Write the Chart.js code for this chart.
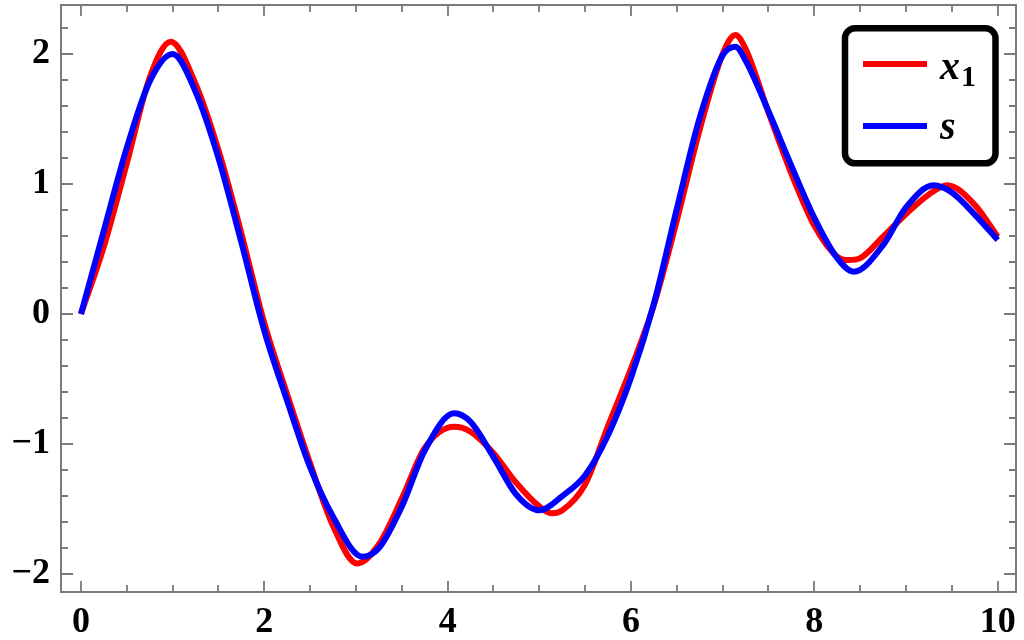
<!DOCTYPE html>
<html>
<head>
<meta charset="utf-8">
<script src="https://cdn.jsdelivr.net/npm/chart.js@4.4.0/dist/chart.umd.min.js"></script>
<style>
  html, body { margin: 0; padding: 0; background: #ffffff; }
  #wrap { width: 1024px; height: 640px; }
</style>
</head>
<body>
<div id="wrap"><canvas id="c" width="1024" height="640"></canvas></div>
<script>
// ---- data ----
const tX1 = [0, 0.25, 0.5, 0.75, 0.98, 1.25, 1.5, 1.75, 2.0, 2.25, 2.5, 2.75, 3.01, 3.25, 3.5, 3.75, 4.07, 4.25, 4.5, 4.75, 5.0, 5.14, 5.25, 5.5, 5.75, 6.0, 6.25, 6.5, 6.75, 7.0, 7.14, 7.25, 7.5, 7.75, 8.0, 8.25, 8.37, 8.5, 8.75, 9.0, 9.25, 9.45, 9.75, 10];
const x1Values = [0, 0.52, 1.16, 1.82, 2.095, 1.77, 1.26, 0.62, -0.07, -0.62, -1.15, -1.63, -1.918, -1.77, -1.42, -1.03, -0.867, -0.905, -1.07, -1.30, -1.48, -1.533, -1.51, -1.31, -0.86, -0.42, 0.07, 0.72, 1.42, 2.0, 2.146, 2.04, 1.55, 1.08, 0.68, 0.44, 0.415, 0.43, 0.595, 0.77, 0.92, 0.99, 0.84, 0.595];

const tS = [0, 0.25, 0.5, 0.75, 1.0, 1.25, 1.5, 1.75, 2.0, 2.25, 2.5, 2.75, 3.07, 3.25, 3.5, 3.75, 4.07, 4.25, 4.5, 4.75, 5.0, 5.25, 5.5, 5.75, 6.0, 6.25, 6.5, 6.75, 7.0, 7.14, 7.25, 7.5, 7.75, 8.0, 8.25, 8.43, 8.75, 9.0, 9.3, 9.5, 9.75, 10];
const sValues = [0, 0.645, 1.28, 1.79, 2.0, 1.71, 1.20, 0.55, -0.13, -0.67, -1.18, -1.56, -1.867, -1.80, -1.48, -1.05, -0.764, -0.83, -1.10, -1.39, -1.51, -1.40, -1.24, -0.93, -0.49, 0.08, 0.81, 1.51, 1.99, 2.056, 1.95, 1.56, 1.14, 0.74, 0.43, 0.326, 0.53, 0.82, 0.99, 0.935, 0.765, 0.57];

const seriesLabels = ['x1', 's'];
const xTickLabels = [0, 2, 4, 6, 8, 10];
const yTickLabels = [-2, -1, 0, 1, 2];
const xMinorTicks = [0, 0.5, 1, 1.5, 2, 2.5, 3, 3.5, 4, 4.5, 5, 5.5, 6, 6.5, 7, 7.5, 8, 8.5, 9, 9.5, 10];
const yMinorTicks = [-2, -1.8, -1.6, -1.4, -1.2, -1, -0.8, -0.6, -0.4, -0.2, 0, 0.2, 0.4, 0.6, 0.8, 1, 1.2, 1.4, 1.6, 1.8, 2, 2.2];

// ---- styling ----
const FRAME = '#7a7a7a';
const SERIF = "'Liberation Serif'";
const fmt = v => (v < 0 ? '\u2212' + Math.abs(v) : String(v));

const framePlugin = {
  id: 'mmaFrame',
  beforeDatasetsDraw(chart) {
    const { ctx, chartArea: a, scales: { x, y } } = chart;
    ctx.save();
    ctx.strokeStyle = FRAME;
    ctx.lineWidth = 1.8;
    ctx.beginPath();
    xMinorTicks.forEach(v => {
      const px = Math.round(x.getPixelForValue(v));
      const len = xTickLabels.includes(v) ? 11 : 7;
      ctx.moveTo(px, a.bottom); ctx.lineTo(px, a.bottom - len);
      ctx.moveTo(px, a.top); ctx.lineTo(px, a.top + len);
    });
    yMinorTicks.forEach(v => {
      const py = Math.round(y.getPixelForValue(v));
      const len = yTickLabels.some(t => Math.abs(t - v) < 1e-9) ? 12 : 7;
      ctx.moveTo(a.left, py); ctx.lineTo(a.left + len, py);
      ctx.moveTo(a.right, py); ctx.lineTo(a.right - len, py);
    });
    ctx.stroke();
    ctx.lineWidth = 2;
    ctx.strokeRect(a.left, a.top, a.right - a.left, a.bottom - a.top);
    ctx.restore();
  }
};

function roundRectPath(ctx, x, y, w, h, r) {
  ctx.beginPath();
  ctx.moveTo(x + r, y);
  ctx.lineTo(x + w - r, y);
  ctx.arcTo(x + w, y, x + w, y + r, r);
  ctx.lineTo(x + w, y + h - r);
  ctx.arcTo(x + w, y + h, x + w - r, y + h, r);
  ctx.lineTo(x + r, y + h);
  ctx.arcTo(x, y + h, x, y + h - r, r);
  ctx.lineTo(x, y + r);
  ctx.arcTo(x, y, x + r, y, r);
  ctx.closePath();
}

const legendPlugin = {
  id: 'mmaLegend',
  afterDraw(chart) {
    const ctx = chart.ctx;
    ctx.save();
    roundRectPath(ctx, 845, 28.3, 150.5, 135, 10);
    ctx.fillStyle = '#ffffff';
    ctx.fill();
    ctx.lineWidth = 6.5;
    ctx.strokeStyle = '#000000';
    ctx.stroke();
    const rows = [64, 126];
    const baselines = [78.5, 138.5];
    chart.data.datasets.forEach((ds, i) => {
      const yy = rows[i];
      ctx.beginPath();
      ctx.strokeStyle = ds.borderColor;
      ctx.lineWidth = 6;
      ctx.lineCap = 'butt';
      ctx.moveTo(863, yy); ctx.lineTo(927, yy);
      ctx.stroke();
      const lab = ds.label;
      const m = lab.match(/^([A-Za-z]+)(\d*)$/);
      const base = m ? m[1] : lab;
      const sub = m ? m[2] : '';
      ctx.fillStyle = '#000';
      ctx.textBaseline = 'alphabetic';
      ctx.textAlign = 'left';
      ctx.font = 'italic bold 40px ' + SERIF;
      ctx.fillText(base, 940, baselines[i]);
      if (sub) {
        const w = ctx.measureText(base).width;
        ctx.font = 'bold 30px ' + SERIF;
        ctx.fillText(sub, 940 + w + 1, baselines[i] + 7);
      }
    });
    ctx.restore();
  }
};

const noPad = s => { s.paddingLeft = 0; s.paddingRight = 0; s.paddingTop = 0; s.paddingBottom = 0; };

const ctx = document.getElementById('c').getContext('2d');
new Chart(ctx, {
  type: 'line',
  data: {
    datasets: [
      {
        label: seriesLabels[0],
        data: tX1.map((t, i) => ({ x: t, y: x1Values[i] })),
        borderColor: '#ff0000',
        borderWidth: 6,
        pointRadius: 0,
        cubicInterpolationMode: 'monotone',
        fill: false,
        order: 1
      },
      {
        label: seriesLabels[1],
        data: tS.map((t, i) => ({ x: t, y: sValues[i] })),
        borderColor: '#0000ff',
        borderWidth: 6,
        pointRadius: 0,
        cubicInterpolationMode: 'monotone',
        fill: false,
        order: 0
      }
    ]
  },
  options: {
    responsive: false,
    animation: false,
    devicePixelRatio: 1,
    layout: { padding: { top: 5, right: 8, left: 0, bottom: 0 } },
    plugins: { legend: { display: false }, tooltip: { enabled: false } },
    scales: {
      x: {
        type: 'linear',
        min: -0.218,
        max: 10.2,
        grid: { display: false, drawTicks: false },
        border: { display: false },
        afterBuildTicks: s => { s.ticks = xTickLabels.map(v => ({ value: v })); },
        afterFit: s => { s.height = 48; noPad(s); },
        ticks: {
          autoSkip: false, maxRotation: 0, padding: 9, color: '#000',
          font: { family: SERIF, weight: 'bold', size: 36 },
          callback: v => fmt(v)
        }
      },
      y: {
        type: 'linear',
        min: -2.138,
        max: 2.377,
        grid: { display: false, drawTicks: false },
        border: { display: false },
        afterBuildTicks: s => { s.ticks = yTickLabels.map(v => ({ value: v })); },
        afterFit: s => { s.width = 61; noPad(s); },
        ticks: {
          autoSkip: false, padding: 11, color: '#000',
          font: { family: SERIF, weight: 'bold', size: 36 },
          callback: v => fmt(v)
        }
      }
    }
  },
  plugins: [framePlugin, legendPlugin]
});
</script>
</body>
</html>
